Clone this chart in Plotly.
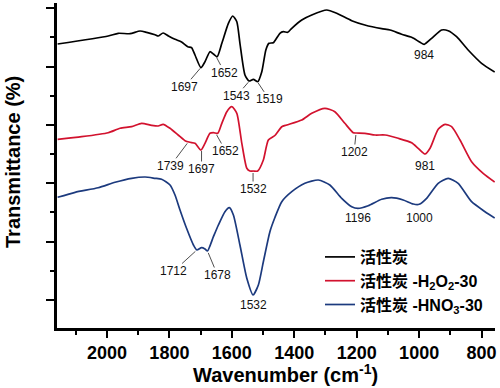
import numpy as np
import plotly.graph_objects as go

# ---- data (wavenumber in cm-1, transmittance in arbitrary units) ----
wn_ac = [2158, 1996, 1964, 1926, 1894, 1873, 1846, 1836, 1820, 1803, 1782, 1761, 1741, 1729, 1718,
         1699, 1686, 1670, 1659, 1647, 1632, 1611, 1597, 1584, 1574, 1558, 1545, 1531, 1517, 1504,
         1491, 1481, 1467, 1446, 1435, 1421, 1408, 1376, 1344, 1296, 1264, 1216, 1174, 1120, 1093,
         1056, 1024, 997, 984, 960, 928, 907, 880, 843, 800, 758]
t_ac = [284, 292, 294.7, 294.3, 297, 295.7, 293.3, 292, 295, 292, 288.7, 286, 281.3, 280.3, 273,
        260.3, 266.3, 276.3, 274, 271.3, 284.7, 304.7, 312, 306.3, 284.7, 253, 247, 248.7, 246.3, 256.3,
        278, 284.7, 285.3, 294.7, 296.3, 295.7, 299.7, 308, 313, 318, 314.7, 307.3, 303, 299.3, 298,
        293.7, 290.7, 285.7, 283.7, 289.7, 298, 297.3, 291.3, 278, 264.7, 256]

wn_h2o2 = [2158, 2081, 1996, 1958, 1921, 1889, 1857, 1836, 1820, 1798, 1772, 1750, 1734, 1718,
           1699, 1686, 1670, 1659, 1645, 1632, 1616, 1600, 1584, 1568, 1552, 1542, 1532, 1517, 1499,
           1483, 1462, 1440, 1424, 1376, 1344, 1302, 1270, 1238, 1211, 1202, 1174, 1141, 1109, 1067,
           1024, 1003, 981, 965, 939, 917, 896, 869, 832, 795, 758]
t_h2o2 = [188.7, 191.3, 195.3, 199.7, 201.3, 204.7, 202.7, 202, 203.7, 199.7, 193, 187.3, 185.7, 184.7,
          178, 184.7, 194.7, 195.3, 194.7, 204.7, 216.3, 221.3, 214.7, 184.7, 159.7, 157, 157, 157, 168,
          188, 192.5, 201.3, 203, 208, 214.7, 219.7, 216.3, 204.7, 195.3, 195, 194.7, 193, 193, 189.7,
          185.3, 179.7, 174, 179.7, 198.7, 203.7, 201.3, 188, 166.3, 154.7, 146]

wn_hno3 = [2158, 2102, 2028, 1974, 1921, 1878, 1846, 1825, 1798, 1782, 1766, 1745, 1723, 1712,
           1697, 1686, 1678, 1659, 1643, 1622, 1608, 1595, 1574, 1552, 1532, 1515, 1499, 1478, 1462,
           1440, 1408, 1366, 1323, 1286, 1248, 1216, 1196, 1163, 1120, 1088, 1051, 1019, 1000, 976,
           939, 907, 875, 832, 789, 758]
t_hno3 = [130.7, 135.7, 140.3, 145.7, 149.7, 151, 149.7, 148.7, 143, 133, 118, 99.7, 83, 78,
          80.3, 79, 77, 91.3, 103, 116.3, 120.3, 113, 83, 49.7, 33, 43, 66.3, 96.3, 110.5,
          126.3, 136.3, 144.7, 148, 143, 129.7, 121.3, 119.7, 122.3, 128.7, 130.3, 128, 124, 123.7, 129.7,
          144.7, 149.7, 144.7, 126.3, 116.3, 110]

names = ["活性炭", "活性炭 -H<sub>2</sub>O<sub>2</sub>-30", "活性炭 -HNO<sub>3</sub>-30"]
colors = ["#000000", "#d2122e", "#1c3a7e"]

peaks_ac = [1697, 1652, 1543, 1519, 984]
peaks_h2o2 = [1739, 1697, 1652, 1532, 1202, 981]
peaks_hno3 = [1712, 1678, 1532, 1196, 1000]

x_ticks = [2000, 1800, 1600, 1400, 1200, 1000, 800]

FONT = "Liberation Sans, Arial, Noto Sans CJK SC, sans-serif"

fig = go.Figure()
series = [(wn_ac, t_ac), (wn_h2o2, t_h2o2), (wn_hno3, t_hno3)]
for (wx, ty), nm, col in zip(series, names, colors):
    fig.add_trace(go.Scatter(x=wx, y=ty, mode="lines", name=nm,
                             line=dict(color=col, width=1.7, shape="spline", smoothing=0.6)))

label_style = [
    (peaks_ac, wn_ac, t_ac, [(-17, 20, True), (9, 17, True), (-13, 15, True), (12, 18, True), (0, 11, False)]),
    (peaks_h2o2, wn_h2o2, t_h2o2, [(-18, 24, True), (0, 20, True), (10, 18, True), (0, 18, True), (-2, 19, True), (0, 12, False)]),
    (peaks_hno3, wn_hno3, t_hno3, [(-23, 21, True), (10, 24, True), (0, 10, False), (0, 10, False), (0, 14, False)]),
]
for peaks, wx, ty, offs in label_style:
    xs = np.array(wx[::-1], dtype=float)
    ys = np.array(ty[::-1], dtype=float)
    for p, (dx, dy, arrow) in zip(peaks, offs):
        yv = float(np.interp(p, xs, ys))
        if arrow:
            fig.add_annotation(x=p, y=yv, text=str(p), showarrow=True, arrowhead=0,
                               arrowwidth=0.8, arrowcolor="#222", ax=dx, ay=dy, standoff=2,
                               font=dict(family=FONT, size=12, color="#111"), borderpad=0)
        else:
            fig.add_annotation(x=p, y=yv, text=str(p), showarrow=False, xshift=dx, yshift=-dy,
                               yanchor="middle", font=dict(family=FONT, size=12, color="#111"))

fig.add_annotation(xref="paper", yref="paper", x=(285 - 57) / 438, y=(328 - 373) / 325,
                   text="Wavenumber (cm<sup>-1</sup>)", showarrow=False, xanchor="center", yanchor="middle",
                   font=dict(family=FONT, size=20, color="black", weight="bold"))
fig.add_annotation(xref="paper", yref="paper", x=(13 - 57) / 438, y=(328 - 162) / 325,
                   text="Transmittance (%)", showarrow=False, textangle=-90, xanchor="center", yanchor="middle",
                   font=dict(family=FONT, size=20, color="black", weight="bold"))

fig.update_layout(
    width=500, height=388,
    margin=dict(l=57, r=5, t=3, b=60),
    paper_bgcolor="white", plot_bgcolor="white",
    showlegend=True,
    legend=dict(x=(320 - 57) / 438, y=(328 - 240) / 325, xanchor="left", yanchor="top",
                bgcolor="rgba(0,0,0,0)", font=dict(family="Liberation Sans, Noto Sans CJK SC", size=16,
                                                   color="black", weight="bold"),
                tracegroupgap=0, itemwidth=30),
    xaxis=dict(range=[2160, 757], showgrid=False, zeroline=False, showline=True, linecolor="black",
               linewidth=2.5, ticks="outside", tickvals=x_ticks, ticklen=7, tickwidth=2, tickcolor="black",
               tickfont=dict(family=FONT, size=18, color="black", weight="bold"),
               minor=dict(ticks="outside", dtick=100, tick0=0, ticklen=4, tickwidth=2, tickcolor="black", showgrid=False)),
    yaxis=dict(range=[0, 325], showgrid=False, zeroline=False, showline=True, linecolor="black",
               linewidth=2.5, ticks="outside", tick0=28, dtick=58.34, ticklen=8, tickwidth=2,
               tickcolor="black", showticklabels=False,
               minor=dict(ticks="outside", tick0=28, dtick=29.17, ticklen=4, tickwidth=2, tickcolor="black", showgrid=False)),
)

fig.write_html("out.html", config={"displayModeBar": False},
               post_script="document.body.style.margin='0px';document.body.style.padding='0px';")
